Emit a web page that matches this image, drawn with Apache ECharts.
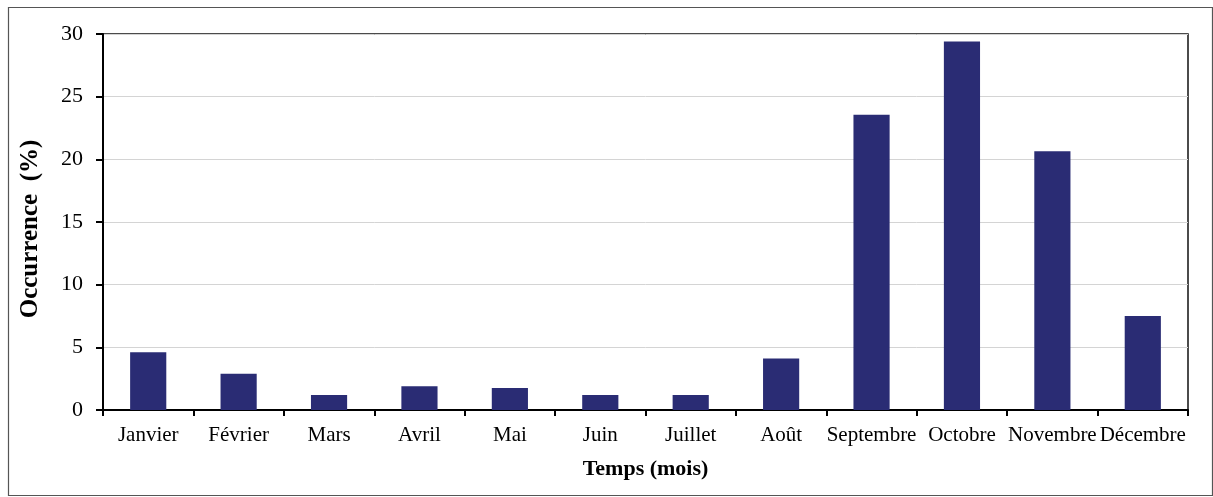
<!DOCTYPE html>
<html>
<head>
<meta charset="utf-8">
<style>html,body{margin:0;padding:0;background:#fff}#c{width:1213px;height:497px}</style>
<script src="https://cdn.jsdelivr.net/npm/echarts@6/dist/echarts.min.js"></script>
</head>
<body>
<div id="c"></div>
<script>
var categories = ['Janvier','Février','Mars','Avril','Mai','Juin','Juillet','Août','Septembre','Octobre','Novembre','Décembre'];
var values = [4.6, 2.9, 1.2, 1.9, 1.75, 1.2, 1.2, 4.1, 23.55, 29.4, 20.65, 7.5];
var yTicks = [0, 5, 10, 15, 20, 25, 30];

var font = '"Liberation Serif", "Times New Roman", serif';
var chart = echarts.init(document.getElementById('c'));
chart.setOption({
  animation: false,
  backgroundColor: '#fff',
  graphic: [{
    type: 'rect', left: 6, top: 5, z: -1,
    shape: { width: 1204, height: 488 },
    style: { fill: 'none', stroke: '#555', lineWidth: 1.2 }
  }],
  grid: { left: 103, right: 25, top: 34, bottom: 87, show: true, borderColor: '#111', borderWidth: 1.5, backgroundColor: 'transparent' },
  xAxis: {
    type: 'category',
    data: categories,
    name: 'Temps (mois)',
    nameLocation: 'middle',
    nameGap: 48,
    nameTextStyle: { fontFamily: font, fontSize: 22, fontWeight: 'bold', color: '#000' },
    axisLine: { lineStyle: { color: '#000', width: 2 } },
    axisTick: { show: true, alignWithLabel: false, length: 6, lineStyle: { color: '#000', width: 2 } },
    axisLabel: { fontFamily: font, fontSize: 21, color: '#000', margin: 15, interval: 0 }
  },
  yAxis: {
    type: 'value',
    min: yTicks[0],
    max: yTicks[yTicks.length - 1],
    interval: 5,
    name: 'Occurrence  (%)',
    nameLocation: 'middle',
    nameGap: 60,
    nameTextStyle: { fontFamily: font, fontSize: 25, fontWeight: 'bold', color: '#000', padding: [0, 14, 0, 0] },
    axisLine: { show: true, lineStyle: { color: '#000', width: 2 } },
    axisTick: { show: true, length: 7, lineStyle: { color: '#000', width: 2 } },
    axisLabel: { fontFamily: font, fontSize: 22, color: '#000', margin: 20 },
    splitLine: { show: true, lineStyle: { color: '#d4d4d4', width: 1 } }
  },
  series: [{
    type: 'bar',
    data: values,
    barWidth: '40%',
    itemStyle: { color: '#2a2c74' }
  }]
});
</script>
</body>
</html>
